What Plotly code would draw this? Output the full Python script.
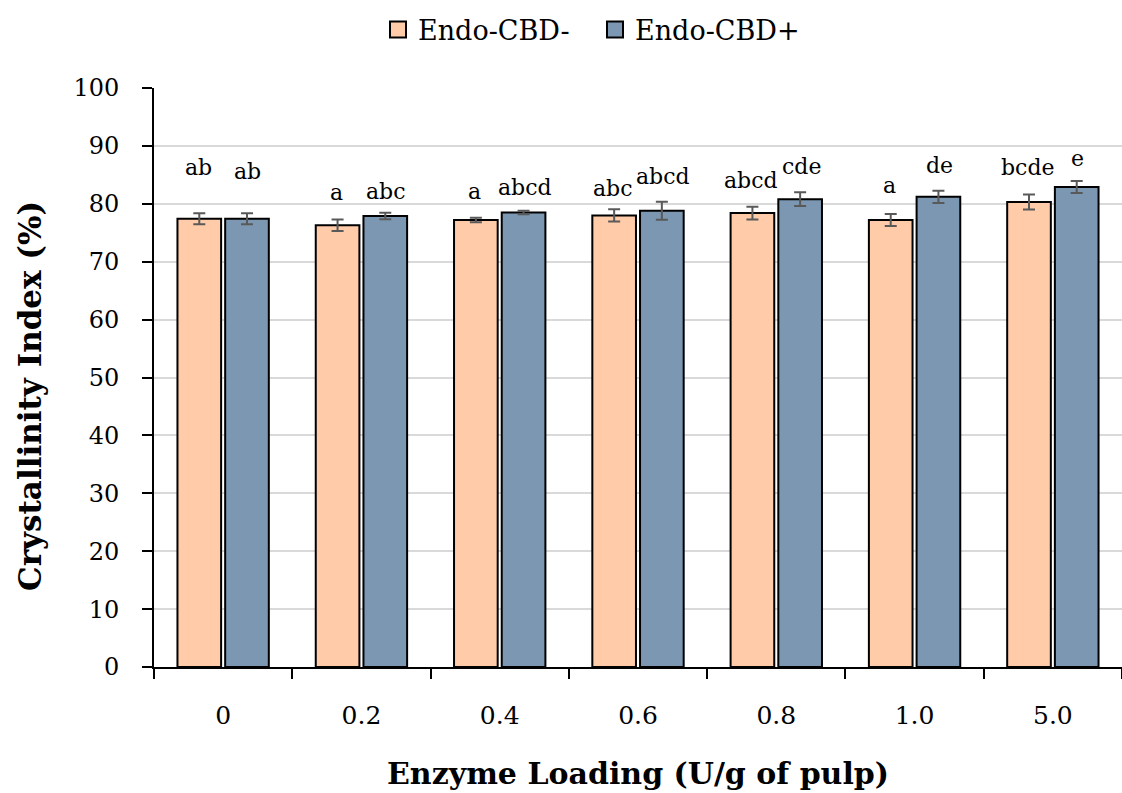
import plotly.graph_objects as go

categories = ["0", "0.2", "0.4", "0.6", "0.8", "1.0", "5.0"]
cbd_minus = [77.4, 76.3, 77.2, 78.0, 78.4, 77.2, 80.3]
cbd_minus_err = [0.95, 1.0, 0.4, 1.05, 1.1, 1.05, 1.3]
cbd_plus = [77.4, 77.9, 78.5, 78.8, 80.8, 81.2, 82.9]
cbd_plus_err = [0.95, 0.55, 0.3, 1.55, 1.2, 1.05, 1.05]
letters_minus = ["ab", "a", "a", "abc", "abcd", "a", "bcde"]
letters_minus_y = [86.2, 81.9, 82.2, 82.7, 84.1, 83.2, 86.2]
letters_plus = ["ab", "abc", "abcd", "abcd", "cde", "de", "e"]
letters_plus_y = [85.5, 82.1, 82.9, 84.7, 86.5, 86.7, 87.9]
series_names = ["Endo-CBD-", "Endo-CBD+"]
series_colors = ["#FFCBA9", "#7C97B2"]

FONT = "DejaVu Serif"
W, H = 1122, 793
ML, MR, MT, MB = 154, 0, 88, 126
BARGAP = 0.31

fig = go.Figure()
for name, vals, errs, col in [
    (series_names[0], cbd_minus, cbd_minus_err, series_colors[0]),
    (series_names[1], cbd_plus, cbd_plus_err, series_colors[1]),
]:
    fig.add_trace(go.Bar(
        name=name, x=categories, y=vals, showlegend=False,
        marker=dict(color=col, line=dict(color="black", width=2)),
        error_y=dict(type="data", array=errs, color="#595959", thickness=2, width=6),
    ))
# legend entries with larger square symbols
for name, col in zip(series_names, series_colors):
    fig.add_trace(go.Scatter(
        name=name, x=[None], y=[None], mode="markers",
        marker=dict(symbol="square", size=16, color=col, line=dict(color="black", width=2)),
    ))

cat_w = (W - ML - MR) / len(categories)
shift = (1 - BARGAP) * cat_w / 4
for i, (t, yv) in enumerate(zip(letters_minus, letters_minus_y)):
    fig.add_annotation(x=i, y=yv, text=t, showarrow=False, xshift=-shift - 1,
                       font=dict(family=FONT, size=22, color="black"))
for i, (t, yv) in enumerate(zip(letters_plus, letters_plus_y)):
    fig.add_annotation(x=i, y=yv, text=t, showarrow=False, xshift=shift + 1,
                       font=dict(family=FONT, size=22, color="black"))

# y-axis title
fig.add_annotation(
    xref="paper", yref="paper", x=(30 - ML) / (W - ML - MR), y=(H - MB - 396) / (H - MT - MB),
    text="<b>Crystallinity Index (%)</b>", textangle=-90, showarrow=False,
    xanchor="center", yanchor="middle", font=dict(family=FONT, size=31, color="black"),
)

fig.update_layout(
    width=W, height=H,
    margin=dict(l=ML, r=MR, t=MT, b=MB, pad=0),
    plot_bgcolor="white", paper_bgcolor="white",
    barmode="group", bargap=BARGAP, bargroupgap=0.085,
    font=dict(family=FONT, size=24, color="black"),
    legend=dict(orientation="h", xref="container", x=378 / W, xanchor="left",
                yref="container", y=1 - 30 / H, yanchor="middle",
                font=dict(family=FONT, size=27), entrywidth=172,
                itemwidth=30, traceorder="normal"),
    xaxis=dict(
        showline=True, linecolor="black", linewidth=2,
        ticks="outside", tickson="boundaries", ticklen=10, tickwidth=2, tickcolor="black",
        ticklabelstandoff=25,
        tickfont=dict(family=FONT, size=25),
        title=dict(text="<b>Enzyme Loading (U/g of pulp)</b>", font=dict(family=FONT, size=30), standoff=34),
    ),
    yaxis=dict(
        range=[0, 100], dtick=10,
        showline=True, linecolor="black", linewidth=2,
        ticks="outside", ticklen=10, tickwidth=2, tickcolor="black",
        showgrid=True, gridcolor="#D9D9D9", gridwidth=2,
        zeroline=False,
        tickfont=dict(family=FONT, size=24),
        ticklabelstandoff=18,
    ),
)

fig.write_html("out.html")
